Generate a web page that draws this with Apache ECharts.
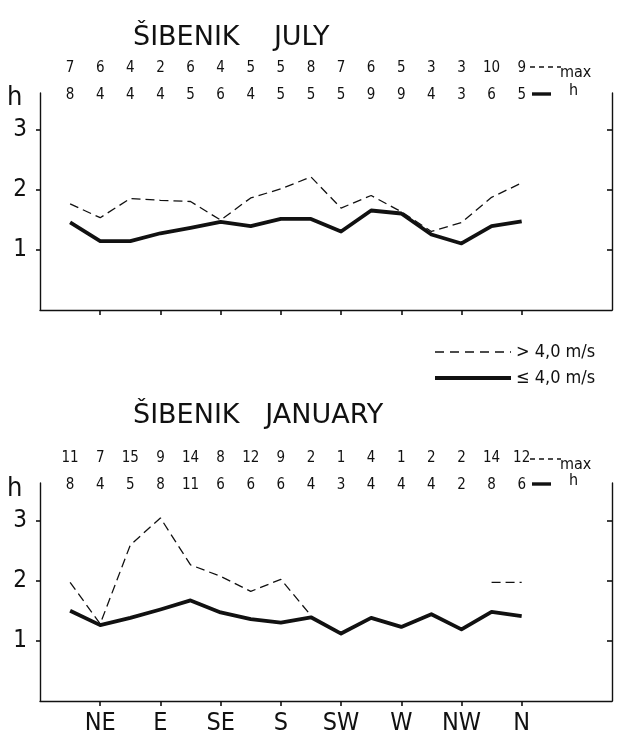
<!DOCTYPE html>
<html><head><meta charset="utf-8">
<script src="https://cdn.jsdelivr.net/npm/echarts@6/dist/echarts.min.js"></script>
<style>html,body{margin:0;padding:0;background:#fff}#c{width:622px;height:742px}</style>
</head><body><div id="c"></div>
<script>
// 16 wind directions (index 0..15)
const directions = ['NNE','NE','ENE','E','ESE','SE','SSE','S','SSW','SW','WSW','W','WNW','NW','NNW','N'];
const labeledTicks = [1,3,5,7,9,11,13,15];
const yTicks = [1,2,3];
// wave heights h (m)
const julyStrong = [1.77,1.54,1.86,1.83,1.81,1.50,1.87,2.02,2.22,1.70,1.91,1.64,1.31,1.46,1.88,2.12];
const julyWeak   = [1.46,1.15,1.15,1.28,1.37,1.47,1.40,1.52,1.52,1.31,1.66,1.61,1.26,1.11,1.40,1.48];
const janStrong  = [1.97,1.28,2.59,3.04,2.26,2.07,1.82,2.02,1.42,null,null,null,null,null,1.97,1.97];
const janWeak    = [1.50,1.26,1.38,1.52,1.67,1.47,1.36,1.30,1.39,1.12,1.38,1.23,1.44,1.19,1.48,1.41];
// counts
const julyMaxCount = [7,6,4,2,6,4,5,5,8,7,6,5,3,3,10,9];
const julyHCount   = [8,4,4,4,5,6,4,5,5,5,9,9,4,3,6,5];
const janMaxCount  = [11,7,15,9,14,8,12,9,2,1,4,1,2,2,14,12];
const janHCount    = [8,4,5,8,11,6,6,6,4,3,4,4,4,2,8,6];
const titles = ['ŠIBENIK    JULY','ŠIBENIK   JANUARY'];
const nameStrong = '> 4,0 m/s';
const nameWeak = '≤ 4,0 m/s';

const FONT = "'DejaVu Sans Condensed','Liberation Sans Narrow','DejaVu Sans',sans-serif";
const TFONT = "'DejaVu Sans',sans-serif";
const INK = '#111';
const idx = directions.map((d,i)=>i);
const pairs = arr => arr.map((v,i)=>[i, v==null?'-':v]);

const grids = [
  {left:40, right:10, top:93, height:217},
  {left:40, right:10, top:483, height:218}
];
const yMax = 3.62;
const xAxes = [], yAxes = [], series = [];
const panels = [
  {strong:julyStrong, weak:julyWeak, maxC:julyMaxCount, hC:julyHCount, showLabels:false},
  {strong:janStrong, weak:janWeak, maxC:janMaxCount, hC:janHCount, showLabels:true}
];
panels.forEach((p,g)=>{
  const base = {type:'value', gridIndex:g, min:-1, max:18, splitLine:{show:false}};
  xAxes.push(Object.assign({}, base, {
    position:'bottom',
    axisLine:{show:true, onZero:false, lineStyle:{color:INK, width:1.4}},
    axisTick:{show:true, customValues:labeledTicks, length:5, lineStyle:{color:INK, width:1.6}},
    axisLabel:{show:p.showLabels, customValues:labeledTicks, formatter:v=>directions[v],
      fontFamily:FONT, fontSize:25, color:INK, margin:10}
  }));
  xAxes.push(Object.assign({}, base, {
    position:'top', offset:25,
    axisLine:{show:false, onZero:false}, axisTick:{show:false},
    axisLabel:{customValues:idx, formatter:v=>String(p.maxC[v]), margin:0, verticalAlign:'middle',
      fontFamily:FONT, fontSize:15, color:INK}
  }));
  xAxes.push(Object.assign({}, base, {
    position:'top', offset:-2,
    axisLine:{show:false, onZero:false}, axisTick:{show:false},
    axisLabel:{customValues:idx, formatter:v=>String(p.hC[v]), margin:0, verticalAlign:'middle',
      fontFamily:FONT, fontSize:15, color:INK}
  }));
  const ybase = {type:'value', gridIndex:g, min:0, max:yMax, splitLine:{show:false}};
  yAxes.push(Object.assign({}, ybase, {
    position:'left',
    axisLine:{show:true, onZero:false, lineStyle:{color:INK, width:1.4}},
    axisTick:{show:true, customValues:yTicks, length:4, lineStyle:{color:INK, width:1.6}},
    axisLabel:{customValues:yTicks, fontFamily:FONT, fontSize:24, color:INK, margin:13}
  }));
  yAxes.push(Object.assign({}, ybase, {
    position:'right',
    axisLine:{show:true, onZero:false, lineStyle:{color:INK, width:1.4}},
    axisTick:{show:true, inside:true, customValues:yTicks, length:5, lineStyle:{color:INK, width:1.6}},
    axisLabel:{show:false}
  }));
  series.push({
    name:nameStrong, type:'line', xAxisIndex:g*3, yAxisIndex:g*2, data:pairs(p.strong),
    symbol:'none', connectNulls:false, silent:true, animation:false,
    lineStyle:{color:INK, width:1.3, type:[9,5]}, itemStyle:{color:INK}
  });
  series.push({
    name:nameWeak, type:'line', xAxisIndex:g*3, yAxisIndex:g*2, data:pairs(p.weak),
    symbol:'none', silent:true, animation:false,
    lineStyle:{color:INK, width:3.8, join:'round'}, itemStyle:{color:INK}
  });
});

function rowNotes(yMx, yH){
  return [
    {type:'line', shape:{x1:530,y1:yMx,x2:561,y2:yMx}, style:{stroke:INK, lineWidth:1.3, lineDash:[5,4]}},
    {type:'text', x:560, y:yMx+6, style:{text:'max', font:'16px '+FONT, fill:INK, textVerticalAlign:'middle'}},
    {type:'line', shape:{x1:532,y1:yH,x2:551,y2:yH}, style:{stroke:INK, lineWidth:3.4}},
    {type:'text', x:569, y:yH-3, style:{text:'h', font:'16px '+FONT, fill:INK, textVerticalAlign:'middle'}}
  ];
}

const option = {
  backgroundColor:'#fff',
  animation:false,
  title: titles.map((t,i)=>({text:t, left:128, top: i===0?19:397,
    textStyle:{fontFamily:TFONT, fontSize:27, fontWeight:'normal', color:INK}})),
  legend:{
    data:[
      {name:nameStrong, itemStyle:{opacity:0}, lineStyle:{width:1.4, type:[9,6], color:INK}},
      {name:nameWeak, itemStyle:{opacity:0}, lineStyle:{width:4, color:INK}}
    ],
    orient:'vertical', left:428, top:338,
    itemWidth:76, itemHeight:14, itemGap:8,
    textStyle:{fontFamily:FONT, fontSize:18, color:INK}
  },
  grid: grids,
  xAxis: xAxes,
  yAxis: yAxes,
  series: series,
  graphic: [
    {type:'text', x:7, y:98, style:{text:'h', font:'27px '+FONT, fill:INK, textVerticalAlign:'middle'}},
    {type:'text', x:7, y:489, style:{text:'h', font:'27px '+FONT, fill:INK, textVerticalAlign:'middle'}}
  ].concat(rowNotes(67, 94), rowNotes(459, 484))
};
const chart = echarts.init(document.getElementById('c'), null, {renderer:'canvas'});
chart.setOption(option);
</script>
</body></html>
